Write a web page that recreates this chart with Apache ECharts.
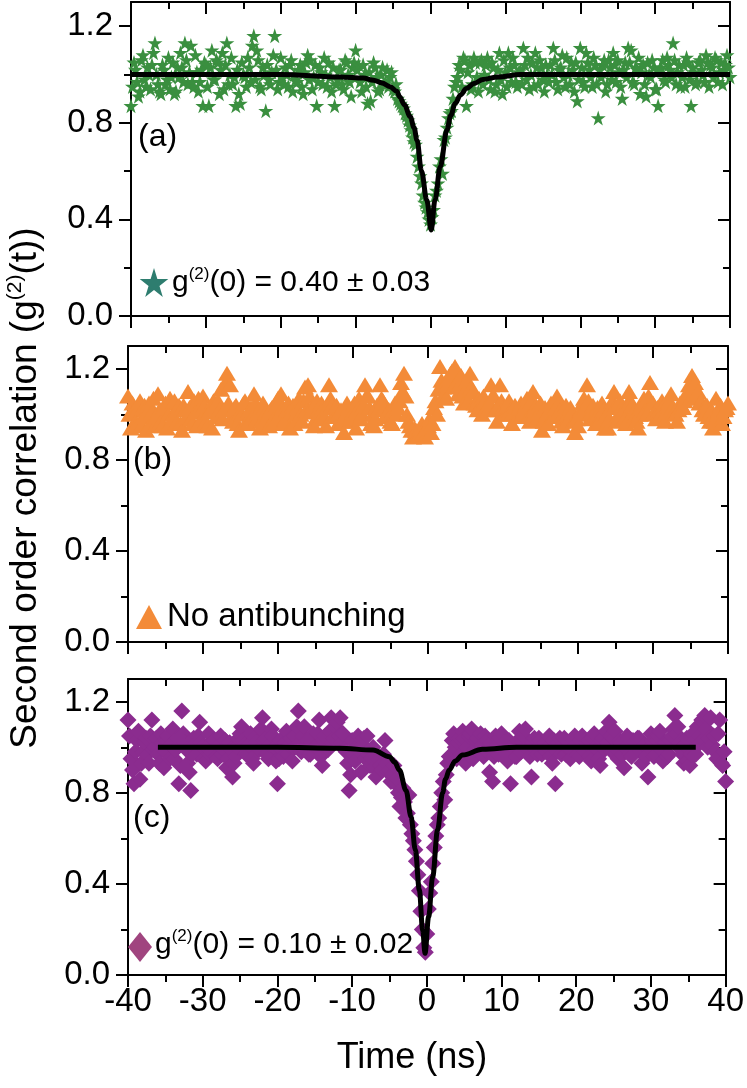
<!DOCTYPE html>
<html>
<head>
<meta charset="utf-8">
<script src="https://cdn.jsdelivr.net/npm/echarts@6/dist/echarts.min.js"></script>
<style>
html,body{margin:0;padding:0;background:#fff;}
#chart{width:747px;height:1088px;}
</style>
</head>
<body>
<div id="chart"></div>
<script>
// ---------- DATA ----------
// time bins: even bins start at -40 ns, odd bins at -39.8 ns, both every 0.4 ns
const evenStart = -40, oddStart = -39.8, binStep = 0.4;

// (a) green stars
const starEven = [
 0.87,1.05,0.97,0.93,1.08,0.95,1.00,1.04,1.13,0.96,
 0.92,1.02,0.98,0.94,1.05,0.93,0.99,1.03,1.13,0.96,
 1.12,0.95,1.01,0.97,0.87,1.04,0.87,1.10,0.98,1.05,
 1.02,0.94,1.13,1.00,0.96,0.87,0.92,1.05,0.99,1.07,
 0.97,1.16,1.10,0.95,1.03,0.85,0.98,1.01,1.16,0.94,
 1.07,0.96,1.00,1.04,0.93,0.98,1.02,0.95,1.01,1.08,
 1.06,0.99,0.87,1.03,0.96,1.00,1.05,0.93,0.87,0.98,
 1.02,0.94,1.05,0.97,1.03,1.10,1.04,0.93,1.00,0.88,
 0.89,1.05,0.99,0.94,1.03,0.97,0.95,1.01,0.93,0.90,
 0.88,0.86,0.83,0.79,0.74,0.71,0.62,0.55,0.47,0.43,
 0.38,0.44,0.52,0.62,0.59,0.74,0.82,0.85,0.95,0.99,
 1.02,1.07,0.87,1.04,0.96,1.05,0.93,1.06,1.00,1.07,
 0.94,1.03,0.96,1.09,0.92,1.01,1.09,0.97,1.04,0.95,
 1.02,1.11,0.98,0.94,1.05,1.09,0.96,1.03,0.93,1.00,
 1.04,1.11,0.97,1.02,1.08,0.95,1.00,1.05,0.93,0.89,
 1.11,0.97,1.09,1.02,0.95,1.04,0.82,0.99,1.06,0.96,
 1.03,1.09,0.97,1.01,0.90,1.05,1.11,1.10,0.96,1.02,
 0.92,1.04,0.91,1.00,1.06,0.94,0.87,1.03,0.98,1.07,
 1.02,1.13,0.96,1.04,0.99,0.95,1.05,0.87,1.01,0.97,
 1.06,1.00,1.08,0.95,1.03,1.07,0.97,1.05,1.02,1.08,
 0.99
];
const starOdd = [
 0.95,1.02,0.91,1.06,0.98,1.03,0.94,1.09,1.00,0.93,
 1.04,0.96,1.07,0.99,0.92,1.03,1.09,0.97,1.06,1.01,
 0.97,1.08,0.93,1.02,1.05,0.95,1.03,0.98,1.06,0.92,
 1.09,1.04,0.96,1.07,0.99,1.02,0.88,1.00,0.95,1.03,
 1.12,0.98,1.06,0.94,1.00,1.04,0.96,1.08,1.02,0.97,
 0.99,1.03,0.95,1.06,1.00,0.97,1.04,0.92,1.05,0.98,
 0.94,1.04,0.97,1.01,1.07,0.95,0.99,1.03,0.96,1.02,
 0.96,1.06,1.00,0.91,1.05,1.02,0.97,1.04,0.95,1.01,
 0.97,1.03,0.93,1.00,0.96,1.02,0.99,0.94,0.96,0.89,
 0.87,0.84,0.81,0.77,0.72,0.66,0.58,0.50,0.45,0.40,
 0.41,0.50,0.55,0.65,0.73,0.78,0.84,0.90,0.97,1.04,
 0.95,1.06,1.01,0.94,1.07,0.99,1.05,0.96,1.04,0.98,
 1.05,0.93,1.02,0.98,1.06,0.95,1.03,1.07,0.97,1.01,
 0.96,1.04,1.07,1.00,0.95,1.03,1.06,0.98,1.04,0.97,
 1.00,1.06,0.94,1.03,0.99,1.07,0.96,1.02,1.05,0.98,
 1.03,0.95,1.05,0.99,1.07,0.96,1.02,1.04,0.93,1.06,
 0.98,1.04,1.06,0.95,1.02,0.99,1.05,0.97,1.03,1.07,
 1.01,0.96,1.05,0.99,1.03,0.94,1.02,1.06,0.97,1.04,
 0.99,1.06,1.01,0.95,1.04,1.07,0.98,1.03,0.96,1.05,
 1.02,0.97,1.05,1.04,0.99,1.06,1.01,0.96,1.04,1.03
];

// (b) orange triangles
const triEven = [
 1.08,0.94,1.02,0.96,1.06,0.99,0.93,1.05,1.01,0.95,
 1.09,0.97,1.03,0.94,1.07,1.00,0.96,1.04,0.93,1.02,
 1.10,0.98,1.06,0.95,1.03,1.08,0.97,1.01,0.94,1.05,
 1.06,1.11,1.02,1.18,1.13,0.97,1.04,0.93,1.00,1.06,
 0.96,1.03,1.09,0.98,0.94,1.05,1.01,0.95,1.03,0.99,
 1.07,1.09,0.96,1.02,0.94,1.04,1.00,1.07,0.97,1.12,
 1.13,1.01,0.95,1.06,0.98,1.03,0.95,1.13,1.04,0.99,
 0.96,1.02,0.92,1.05,0.97,1.01,0.94,1.07,1.00,1.13,
 1.08,0.96,0.95,1.04,1.13,1.06,0.99,1.02,0.96,1.05,
 1.03,1.14,1.18,1.00,0.95,0.90,0.93,0.91,0.96,0.90,
 0.95,0.92,1.03,1.00,1.21,1.12,1.07,1.16,1.19,1.21,
 1.09,1.17,1.05,1.15,1.18,1.10,1.04,1.07,1.00,1.06,
 1.02,1.13,1.08,0.97,1.13,1.03,1.00,1.06,0.96,1.04,
 0.99,1.05,1.02,1.07,0.97,1.10,1.04,1.01,0.93,1.03,
 0.96,1.05,0.99,1.08,1.02,0.95,1.04,0.98,1.01,0.92,
 0.95,1.02,1.07,1.13,0.98,1.04,0.96,1.01,1.05,0.94,
 0.94,1.03,1.10,0.97,1.06,1.01,0.96,1.10,1.04,0.99,
 0.94,1.03,1.07,1.00,1.14,1.05,0.98,1.02,1.06,0.97,
 1.04,1.09,1.01,0.97,1.05,1.03,1.08,1.13,1.17,1.14,
 1.10,1.06,1.00,1.04,0.97,0.94,1.07,1.02,0.96,1.02,
 1.05
];
const triOdd = [
 1.00,1.05,0.97,1.03,0.95,1.04,1.01,0.96,1.07,0.99,
 1.02,0.95,1.05,1.00,0.97,1.06,1.02,0.96,1.04,0.99,
 1.03,0.96,1.01,1.07,0.98,1.04,0.95,1.02,1.06,0.99,
 1.02,0.98,1.14,1.05,0.99,1.03,0.96,1.01,1.05,0.97,
 1.02,0.99,1.05,1.01,0.97,1.03,0.99,1.02,0.96,1.04,
 1.00,1.03,0.98,1.05,1.01,0.96,1.03,1.00,1.06,1.02,
 1.08,1.04,0.98,1.02,1.05,0.99,1.03,1.07,1.00,1.04,
 1.01,0.97,1.00,1.03,0.99,1.05,1.02,0.98,1.04,1.08,
 1.03,1.00,0.98,1.02,1.07,1.03,1.01,0.97,1.02,1.00,
 1.06,1.10,1.08,0.97,0.93,0.94,0.91,0.94,0.92,0.94,
 0.98,0.96,1.06,1.11,1.15,1.09,1.13,1.18,1.12,1.14,
 1.13,1.08,1.11,1.06,1.12,1.05,1.02,1.04,1.08,1.03,
 1.05,1.08,1.02,1.04,1.06,1.00,1.04,1.02,1.01,0.99,
 1.03,1.00,1.04,0.99,1.06,1.02,0.98,1.05,0.97,1.00,
 1.02,0.99,1.03,1.05,0.97,1.01,1.00,1.03,0.97,0.98,
 1.00,1.05,1.03,1.06,1.01,0.99,1.03,0.98,1.02,1.00,
 0.98,1.06,1.04,1.00,1.03,0.98,1.05,1.06,1.01,0.97,
 1.00,1.05,1.02,1.08,1.05,1.01,1.03,1.00,1.04,1.01,
 1.06,1.03,1.00,1.02,1.04,1.06,1.10,1.07,1.12,1.08,
 1.05,1.02,1.04,0.99,1.02,0.97,1.00,1.04,0.99,1.03
];

// (c) purple diamonds
const diaEven = [
 1.12,0.95,0.84,1.03,0.86,0.98,1.04,0.93,1.12,1.00,
 0.97,1.06,0.91,1.03,0.95,1.08,0.99,0.84,1.16,1.02,
 0.93,0.81,1.04,0.97,1.11,1.00,0.94,1.06,0.98,1.03,
 0.95,1.05,0.99,0.91,1.02,0.87,0.96,1.04,1.09,1.01,
 0.97,1.06,0.93,1.02,0.99,1.13,1.04,0.95,1.08,1.00,
 0.84,1.03,0.96,1.07,1.01,0.94,1.05,1.16,0.98,1.09,
 1.03,0.97,1.06,1.00,1.12,0.92,1.05,0.99,1.13,1.04,
 1.11,1.13,1.06,0.98,0.81,1.03,0.94,1.05,0.89,1.04,
 1.05,0.92,1.00,0.87,0.95,0.90,1.03,0.89,0.85,0.92,
 0.86,0.74,0.82,0.69,0.79,0.62,0.55,0.44,0.28,0.12,
 0.18,0.36,0.49,0.61,0.69,0.80,0.77,0.93,0.96,1.06,
 0.95,1.04,1.07,0.93,1.05,1.08,0.99,1.04,1.06,0.96,
 1.03,0.89,0.85,1.05,0.97,1.06,1.02,0.94,0.84,1.01,
 0.96,1.07,1.02,1.08,0.99,0.87,1.04,0.97,1.03,1.00,
 0.98,1.05,0.93,0.84,1.02,0.97,1.04,1.00,0.95,1.03,
 1.01,0.96,1.05,0.98,1.03,0.94,1.06,0.99,0.92,1.04,
 1.07,1.11,0.98,1.07,0.95,1.02,0.91,1.05,0.97,1.03,
 0.99,1.04,0.93,1.01,0.87,1.06,0.96,1.03,1.07,0.94,
 1.02,0.97,1.05,1.14,1.09,0.99,0.93,1.04,0.92,1.06,
 0.97,1.05,1.12,1.14,1.00,1.13,1.05,0.95,1.12,0.92,
 0.85
];
const diaOdd = [
 1.05,0.90,0.98,1.07,0.93,1.02,0.97,1.05,0.99,1.04,
 0.93,1.02,0.98,1.05,1.01,0.95,1.04,0.92,1.06,0.99,
 0.89,0.97,1.01,1.05,1.02,0.95,1.00,0.97,1.03,0.96,
 1.01,0.97,1.03,0.95,0.99,0.93,1.00,1.06,1.03,0.97,
 1.01,0.95,1.04,0.99,1.08,1.03,0.97,1.01,1.05,0.94,
 0.95,0.99,1.02,0.97,1.04,1.00,1.09,1.02,1.05,1.01,
 0.97,1.02,1.00,1.06,0.96,1.03,0.99,1.07,1.02,1.09,
 1.05,1.02,0.99,0.93,0.88,0.97,1.00,0.98,1.01,0.95,
 0.97,0.95,0.91,0.94,0.92,0.97,0.93,0.90,0.88,0.84,
 0.80,0.78,0.76,0.71,0.66,0.59,0.50,0.37,0.20,0.10,
 0.29,0.41,0.56,0.66,0.74,0.85,0.88,0.96,1.03,1.00,
 1.02,0.97,1.04,1.00,1.06,0.95,1.03,0.98,1.01,1.05,
 0.98,1.02,0.96,1.01,1.04,0.99,0.97,1.03,1.00,0.96,
 1.03,0.98,1.05,1.00,0.96,1.02,0.99,1.04,0.97,1.02,
 1.00,0.96,1.03,0.98,1.04,1.01,0.97,1.02,0.99,1.05,
 0.97,1.03,0.99,1.02,0.96,1.04,1.00,0.95,1.03,0.99,
 1.02,1.05,1.04,0.99,1.03,0.97,1.00,1.04,0.96,1.02,
 1.04,0.98,1.01,0.96,1.00,1.03,0.97,1.05,0.99,1.02,
 0.96,1.03,1.08,1.06,1.02,0.97,1.01,0.94,0.97,1.03,
 1.09,1.02,1.11,1.08,1.04,1.01,0.98,1.06,0.93,0.98
];

// fit curves
const fitATimes  = [-40,-20,-12,-9,-7.6,-6.5,-5.4,-4.5,-4.1,-3.5,-2.7,-2.2,-1.8,-1.2,-0.5,0.1,0.6,1.3,2.2,2.7,3.3,4.0,4.8,5.8,7.0,9.0,12,20,40];
const fitAValues = [1.0,1.0,0.99,0.985,0.976,0.965,0.949,0.93,0.907,0.875,0.825,0.78,0.728,0.60,0.48,0.356,0.48,0.618,0.77,0.83,0.88,0.915,0.942,0.963,0.979,0.99,1.0,1.0,1.0];
const fitCTimes  = [-36,-20,-11.7,-7.2,-5.0,-4.3,-3.67,-2.78,-2.11,-1.54,-1.0,-0.56,-0.24,0.24,0.78,1.44,2.11,2.5,3.0,3.8,4.78,7.45,12,36];
const fitCValues = [1.0,1.0,0.996,0.988,0.959,0.935,0.90,0.81,0.695,0.549,0.373,0.198,0.095,0.256,0.43,0.637,0.80,0.86,0.90,0.94,0.966,0.991,1.0,1.0];

const xMin = -40, xMax = 40, xInterval = 10;
const yMin = 0, yMax = 1.3;
const yMajorTicks = [0, 0.4, 0.8, 1.2];
const yMinorTicks = [0.2, 0.6, 1.0];

// ---------- CHART ----------
const FONT = '"Liberation Sans", Arial, Helvetica, sans-serif';
const STAR_PTS = [[50,0],[61.23,34.55],[97.55,34.55],[68.17,55.9],[79.39,90.45],[50,69.1],[20.61,90.45],[31.83,55.9],[2.45,34.55],[38.77,34.55]];
const STAR = 'path://M' + STAR_PTS.map(p => p.join(',')).join(' L') + ' Z';

const grids = [
  {left: 131, right: 17, top: 2, height: 314},
  {left: 128, right: 19, top: 346, height: 296},
  {left: 128, right: 20, top: 679, height: 296}
];

const lineBlack = {color: '#000', width: 2};
const xAxes = [], yAxes = [];
grids.forEach((g, gi) => {
  const base = {
    type: 'value', gridIndex: gi, min: xMin, max: xMax, interval: xInterval,
    axisLine: {show: true, onZero: false, lineStyle: lineBlack},
    axisTick: {show: true, length: 12, lineStyle: lineBlack},
    minorTick: {show: true, splitNumber: 2, length: 7, lineStyle: lineBlack},
    splitLine: {show: false}, minorSplitLine: {show: false}
  };
  xAxes.push(Object.assign({}, base, {
    position: 'bottom',
    axisTick: Object.assign({}, base.axisTick, {inside: false}),
    axisLabel: {show: gi === 2, fontFamily: FONT, fontSize: 33, color: '#000', margin: 10}
  }));
  xAxes.push(Object.assign({}, base, {
    position: 'top',
    axisTick: Object.assign({}, base.axisTick, {inside: true}),
    axisLabel: {show: false}
  }));
  const ybase = {type: 'value', gridIndex: gi, min: yMin, max: yMax, splitLine: {show: false}};
  yAxes.push(Object.assign({}, ybase, {
    position: 'left',
    axisLine: {show: true, onZero: false, lineStyle: lineBlack},
    axisTick: {show: true, inside: false, length: 12, lineStyle: lineBlack, customValues: yMajorTicks},
    axisLabel: {show: true, customValues: yMajorTicks, formatter: v => Number(v).toFixed(1),
                fontFamily: FONT, fontSize: 33, color: '#000', margin: 18}
  }));
  yAxes.push(Object.assign({}, ybase, {
    position: 'left',
    axisLine: {show: false, onZero: false},
    axisTick: {show: true, inside: false, length: 7, lineStyle: lineBlack, customValues: yMinorTicks},
    axisLabel: {show: false}
  }));
  yAxes.push(Object.assign({}, ybase, {
    position: 'right',
    axisLine: {show: true, onZero: false, lineStyle: lineBlack},
    axisTick: {show: true, inside: true, length: 12, lineStyle: lineBlack, customValues: yMajorTicks},
    axisLabel: {show: false}
  }));
  yAxes.push(Object.assign({}, ybase, {
    position: 'right',
    axisLine: {show: false, onZero: false},
    axisTick: {show: true, inside: true, length: 7, lineStyle: lineBlack, customValues: yMinorTicks},
    axisLabel: {show: false}
  }));
});

// merge even/odd bins into time-ordered [t, v] pairs
function toPoints(evenVals, oddVals) {
  const pts = [];
  evenVals.forEach((v, i) => {
    pts.push([evenStart + i * binStep, v]);
    if (i < oddVals.length) pts.push([oddStart + i * binStep, oddVals[i]]);
  });
  return pts;
}
const zip = (ts, vs) => ts.map((t, i) => [t, vs[i]]);

function scatter(name, gi, evenVals, oddVals, symbol, size, color) {
  return {
    name, type: 'scatter', xAxisIndex: gi * 2, yAxisIndex: gi * 4,
    data: toPoints(evenVals, oddVals), symbol, symbolSize: size,
    itemStyle: {color, opacity: 1}, z: 2, silent: true, large: false
  };
}
function fit(name, gi, ts, vs) {
  return {
    name, type: 'line', xAxisIndex: gi * 2, yAxisIndex: gi * 4,
    data: zip(ts, vs), showSymbol: false, smooth: 0.35, smoothMonotone: 'x',
    lineStyle: {color: '#000', width: 5}, z: 5, silent: true
  };
}

const series = [
  scatter('a', 0, starEven, starOdd, STAR, 15, '#3a8f3f'),
  fit('fitA', 0, fitATimes, fitAValues),
  scatter('b', 1, triEven, triOdd, 'triangle', [18, 15], '#f38b38'),
  scatter('c', 2, diaEven, diaOdd, 'diamond', [17, 17], '#8b2c8f'),
  fit('fitC', 2, fitCTimes, fitCValues)
];

const txt = (x, y, text, size, extra) => ({
  type: 'text', x, y, z: 20,
  style: Object.assign({text, fontSize: size, fontFamily: FONT, fill: '#000', align: 'left', verticalAlign: 'middle'}, extra || {})
});
const richG = (x, y, rest) => ({
  type: 'text', x, y, z: 20,
  style: {
    text: '{m|g}{s|(2)}{m|' + rest + '}',
    align: 'left', verticalAlign: 'middle',
    rich: {
      m: {fontSize: 30, fontFamily: FONT, fill: '#000', lineHeight: 34},
      s: {fontSize: 17, fontFamily: FONT, fill: '#000', lineHeight: 18, verticalAlign: 'top'}
    }
  }
});

// legend star: 30x29 px box at (139,268)
const starIcon = STAR_PTS.map(p => [139 + p[0] * 0.30, 268 + p[1] * 0.32]);

const graphic = [
  {
    type: 'text', x: 26, y: 488, rotation: Math.PI / 2, z: 20,
    style: {
      text: '{m|Second order correlation (g}{s|(2)}{m|(t))}',
      align: 'center', verticalAlign: 'middle',
      rich: {
        m: {fontSize: 37, fontFamily: FONT, fill: '#000', lineHeight: 42},
        s: {fontSize: 21, fontFamily: FONT, fill: '#000', lineHeight: 22, verticalAlign: 'top'}
      }
    }
  },
  txt(412, 1058, 'Time (ns)', 36, {align: 'center'}),
  txt(138, 137, '(a)', 32),
  txt(133, 460, '(b)', 32),
  txt(133, 818, '(c)', 32),
  {type: 'polygon', z: 20, shape: {points: starIcon}, style: {fill: '#2e7d6f'}},
  richG(172, 283, '(0) = 0.40 ± 0.03'),
  {type: 'polygon', z: 20, shape: {points: [[136, 629], [162, 629], [149, 605]]}, style: {fill: '#f38b38'}},
  txt(167, 617, 'No antibunching', 33),
  {type: 'polygon', z: 20, shape: {points: [[140, 932], [152, 947], [140, 962], [128, 947]]}, style: {fill: '#a0457f'}},
  richG(155, 945, '(0) = 0.10 ± 0.02')
];

const chart = echarts.init(document.getElementById('chart'), null, {renderer: 'canvas'});
chart.setOption({
  animation: false,
  backgroundColor: '#fff',
  grid: grids,
  xAxis: xAxes,
  yAxis: yAxes,
  series,
  graphic
});
</script>
</body>
</html>
